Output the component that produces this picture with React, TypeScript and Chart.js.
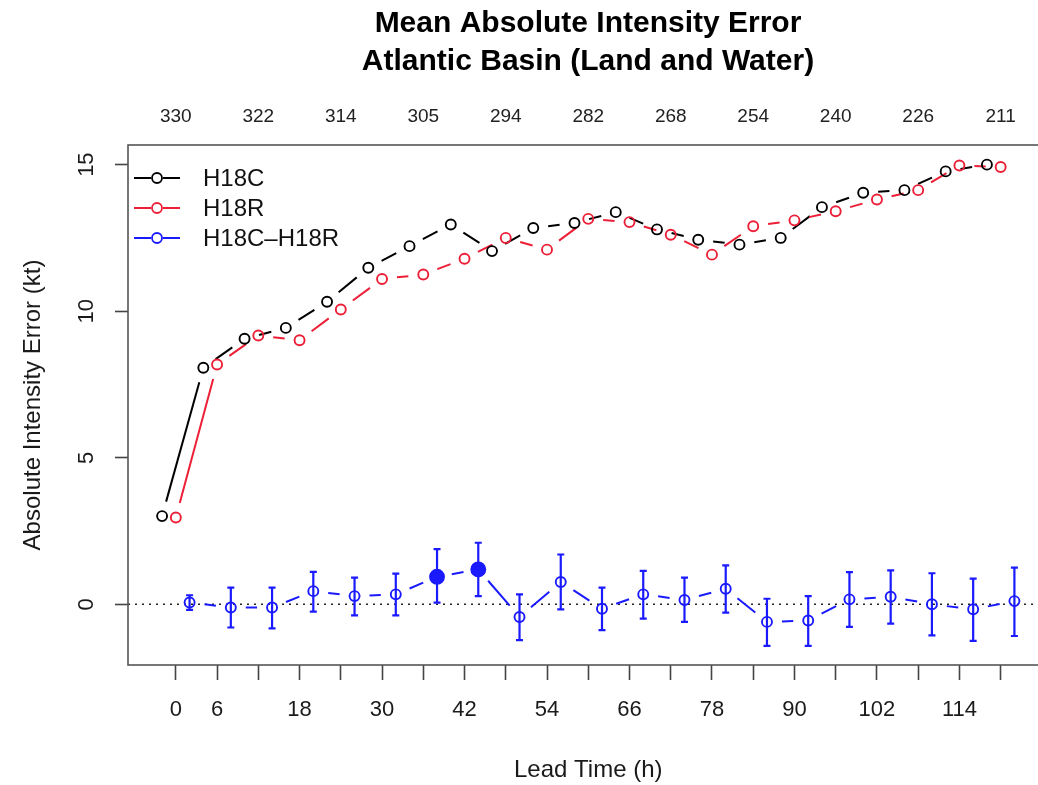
import React, { useEffect, useRef } from 'react';
import { Chart, registerables } from 'chart.js';

Chart.register(...registerables);

// ---- data ----
const leadTimes = [0, 6, 12, 18, 24, 30, 36, 42, 48, 54, 60, 66, 72, 78, 84, 90, 96, 102, 108, 114, 120];
const bottomTickLabels = [0, 6, 18, 30, 42, 54, 66, 78, 90, 102, 114];
const topTickHours = [0, 12, 24, 36, 48, 60, 72, 84, 96, 108, 120];
const sampleCounts = [330, 322, 314, 305, 294, 282, 268, 254, 240, 226, 211];
const yTickValues = [0, 5, 10, 15];

const h18c = [3.01, 8.07, 9.06, 9.43, 10.32, 11.48, 12.22, 12.96, 12.05, 12.84, 13.01, 13.38, 12.79, 12.44, 12.27, 12.5, 13.55, 14.04, 14.13, 14.77, 15.0];
const h18r = [2.96, 8.18, 9.17, 9.01, 10.06, 11.1, 11.25, 11.79, 12.5, 12.1, 13.15, 13.04, 12.61, 11.93, 12.9, 13.1, 13.41, 13.81, 14.13, 14.97, 14.92];
const diffMean = [0.06, -0.11, -0.11, 0.45, 0.28, 0.34, 0.94, 1.19, -0.43, 0.76, -0.15, 0.34, 0.15, 0.53, -0.6, -0.55, 0.17, 0.26, 0.0, -0.17, 0.11];
const diffLower = [-0.19, -0.79, -0.82, -0.25, -0.38, -0.38, 0.06, 0.28, -1.22, -0.17, -0.88, -0.49, -0.6, -0.28, -1.42, -1.42, -0.77, -0.66, -1.06, -1.25, -1.08];
const diffUpper = [0.31, 0.57, 0.57, 1.11, 0.91, 1.05, 1.88, 2.1, 0.34, 1.7, 0.57, 1.14, 0.91, 1.33, 0.19, 0.28, 1.1, 1.16, 1.06, 0.88, 1.25];
const diffSignificant = [false, false, false, false, false, false, true, true, false, false, false, false, false, false, false, false, false, false, false, false, false];

const seriesLabels = ['H18C', 'H18R', 'H18C\u2013H18R'];

// ---- styling / layout constants ----
const FONT = "'Liberation Sans', Arial, Helvetica, sans-serif";
const W = 1176;
const H = 785;
const X_MIN = -6.96;
const X_MAX = 126.96;
const Y_MIN = -2.07;
const Y_MAX = 15.67;
const DODGE = 2;
const GAP = 15;
const BLACK = '#000000';
const RED = '#ec1f36';
const BLUE = '#1a1aff';

const rStylePlugin = {
  id: 'rStyle',
  beforeDatasetsDraw(chart: any) {
    const { ctx, chartArea: a, scales } = chart;
    const xs = scales.x;
    const ys = scales.y;
    ctx.save();
    ctx.beginPath();
    ctx.rect(a.left, a.top, a.right - a.left, a.bottom - a.top);
    ctx.clip();

    // dotted zero line
    const y0 = ys.getPixelForValue(0);
    ctx.setLineDash([2, 5]);
    ctx.lineWidth = 1.6;
    ctx.strokeStyle = '#222';
    ctx.beginPath();
    ctx.moveTo(a.left, y0);
    ctx.lineTo(a.right, y0);
    ctx.stroke();
    ctx.setLineDash([]);

    // R type="b" gapped connecting lines
    chart.data.datasets.forEach((ds: any, di: number) => {
      const meta = chart.getDatasetMeta(di);
      ctx.strokeStyle = ds.borderColor;
      ctx.lineWidth = 2;
      for (let i = 0; i < meta.data.length - 1; i++) {
        const p0 = meta.data[i];
        const p1 = meta.data[i + 1];
        const dx = p1.x - p0.x;
        const dy = p1.y - p0.y;
        const d = Math.hypot(dx, dy);
        if (d <= 2 * GAP) continue;
        const ux = dx / d;
        const uy = dy / d;
        ctx.beginPath();
        ctx.moveTo(p0.x + ux * GAP, p0.y + uy * GAP);
        ctx.lineTo(p1.x - ux * GAP, p1.y - uy * GAP);
        ctx.stroke();
      }
    });

    // error bars for the difference series
    ctx.strokeStyle = BLUE;
    ctx.lineWidth = 2.2;
    leadTimes.forEach((t, i) => {
      const px = xs.getPixelForValue(t + DODGE);
      const yl = ys.getPixelForValue(diffLower[i]);
      const yh = ys.getPixelForValue(diffUpper[i]);
      ctx.beginPath();
      ctx.moveTo(px, yl);
      ctx.lineTo(px, yh);
      ctx.moveTo(px - 3.5, yl);
      ctx.lineTo(px + 3.5, yl);
      ctx.moveTo(px - 3.5, yh);
      ctx.lineTo(px + 3.5, yh);
      ctx.stroke();
    });
    ctx.restore();
  },
  afterDraw(chart: any) {
    const { ctx, chartArea: a } = chart;
    ctx.save();
    // plot box
    ctx.strokeStyle = '#555';
    ctx.lineWidth = 1.6;
    ctx.strokeRect(a.left, a.top, a.right - a.left, a.bottom - a.top);

    // legend (top-left, inside plot)
    const colors = [BLACK, RED, BLUE];
    ctx.font = `24px ${FONT}`;
    ctx.textBaseline = 'middle';
    ctx.textAlign = 'left';
    seriesLabels.forEach((lab, i) => {
      const ly = a.top + 33 + i * 30;
      const lx0 = a.left + 6;
      const lx1 = a.left + 52;
      const cx = (lx0 + lx1) / 2;
      ctx.strokeStyle = colors[i];
      ctx.lineWidth = 2;
      ctx.beginPath();
      ctx.moveTo(lx0, ly);
      ctx.lineTo(cx - 6, ly);
      ctx.moveTo(cx + 6, ly);
      ctx.lineTo(lx1, ly);
      ctx.stroke();
      ctx.beginPath();
      ctx.arc(cx, ly, 5, 0, Math.PI * 2);
      ctx.lineWidth = 1.8;
      ctx.stroke();
      ctx.fillStyle = '#111';
      ctx.fillText(lab, a.left + 75, ly + 1);
    });
    ctx.restore();
  },
};

export default function App() {
  const ref = useRef<HTMLCanvasElement | null>(null);

  useEffect(() => {
    if (!ref.current) return;
    Chart.defaults.font.family = FONT;
    Chart.defaults.color = '#1a1a1a';

    const blueRadius = diffSignificant.map((s) => (s ? 7 : 5));
    const blueFill = diffSignificant.map((s) => (s ? BLUE : 'rgba(0,0,0,0)'));

    const chart = new Chart(ref.current, {
      type: 'line',
      data: {
        datasets: [
          {
            label: seriesLabels[0],
            data: leadTimes.map((t, i) => ({ x: t - DODGE, y: h18c[i] })),
            showLine: false,
            borderColor: BLACK,
            pointBorderColor: BLACK,
            pointBackgroundColor: 'rgba(0,0,0,0)',
            pointRadius: 5,
            pointBorderWidth: 1.9,
          },
          {
            label: seriesLabels[1],
            data: leadTimes.map((t, i) => ({ x: t, y: h18r[i] })),
            showLine: false,
            borderColor: RED,
            pointBorderColor: RED,
            pointBackgroundColor: 'rgba(0,0,0,0)',
            pointRadius: 5,
            pointBorderWidth: 1.9,
          },
          {
            label: seriesLabels[2],
            data: leadTimes.map((t, i) => ({ x: t + DODGE, y: diffMean[i] })),
            showLine: false,
            borderColor: BLUE,
            pointBorderColor: BLUE,
            pointBackgroundColor: blueFill,
            pointRadius: blueRadius,
            pointBorderWidth: 1.9,
          },
        ],
      },
      options: {
        responsive: false,
        animation: false,
        devicePixelRatio: 1,
        layout: { padding: 0 },
        plugins: {
          legend: { display: false },
          tooltip: { enabled: false },
          title: {
            display: true,
            text: ['Mean Absolute Intensity Error', 'Atlantic Basin (Land and Water)'],
            color: '#000',
            font: { size: 30, weight: 'bold', family: FONT, lineHeight: 38 / 30 },
            padding: { top: 5, bottom: 8 },
          },
        },
        scales: {
          x: {
            type: 'linear',
            position: 'bottom',
            min: X_MIN,
            max: X_MAX,
            afterBuildTicks: (scale: any) => {
              scale.ticks = leadTimes.map((v) => ({ value: v }));
            },
            afterFit: (scale: any) => {
              scale.height = 120;
            },
            ticks: {
              autoSkip: false,
              maxRotation: 0,
              minRotation: 0,
              padding: 17,
              font: { size: 22 },
              color: '#1a1a1a',
              callback: (v: any) => (bottomTickLabels.includes(v) ? String(v) : ''),
            },
            grid: {
              drawOnChartArea: false,
              drawTicks: true,
              tickLength: 15,
              tickColor: '#444',
              tickWidth: 1.6,
            },
            border: { display: false },
            title: {
              display: true,
              text: 'Lead Time (h)',
              font: { size: 24 },
              color: '#1a1a1a',
              padding: { top: 0, bottom: 0 },
            },
          },
          x2: {
            type: 'linear',
            position: 'top',
            min: X_MIN,
            max: X_MAX,
            afterBuildTicks: (scale: any) => {
              scale.ticks = topTickHours.map((v) => ({ value: v }));
            },
            afterFit: (scale: any) => {
              scale.height = 56;
            },
            ticks: {
              autoSkip: false,
              maxRotation: 0,
              minRotation: 0,
              padding: 17,
              font: { size: 19 },
              color: '#222',
              callback: (v: any) => {
                const idx = topTickHours.indexOf(v);
                return idx >= 0 ? String(sampleCounts[idx]) : '';
              },
            },
            grid: { display: false, drawTicks: false, drawOnChartArea: false },
            border: { display: false },
          },
          y: {
            type: 'linear',
            position: 'left',
            min: Y_MIN,
            max: Y_MAX,
            afterBuildTicks: (scale: any) => {
              scale.ticks = yTickValues.map((v) => ({ value: v }));
            },
            afterFit: (scale: any) => {
              scale.width = 128;
            },
            ticks: {
              minRotation: 90,
              maxRotation: 90,
              crossAlign: 'center',
              padding: 16,
              font: { size: 22 },
              color: '#1a1a1a',
            },
            grid: {
              drawOnChartArea: false,
              drawTicks: true,
              tickLength: 13,
              tickColor: '#444',
              tickWidth: 1.6,
            },
            border: { display: false },
            title: {
              display: true,
              text: 'Absolute Intensity Error (kt)',
              font: { size: 24 },
              color: '#1a1a1a',
              padding: { top: 19, bottom: 0 },
            },
          },
          yRightSpacer: {
            type: 'linear',
            position: 'right',
            min: 0,
            max: 1,
            display: true,
            afterFit: (scale: any) => {
              scale.width = W - 1048.5;
            },
            ticks: { display: false },
            grid: { display: false, drawTicks: false },
            border: { display: false },
          },
        },
      },
      plugins: [rStylePlugin],
    } as any);

    return () => chart.destroy();
  }, []);

  return (
    <div
      style={{
        position: 'fixed',
        left: 0,
        top: 0,
        width: 1038,
        height: 785,
        overflow: 'hidden',
        background: '#ffffff',
      }}
    >
      <canvas ref={ref} width={W} height={H} style={{ width: W, height: H, display: 'block' }} />
    </div>
  );
}
